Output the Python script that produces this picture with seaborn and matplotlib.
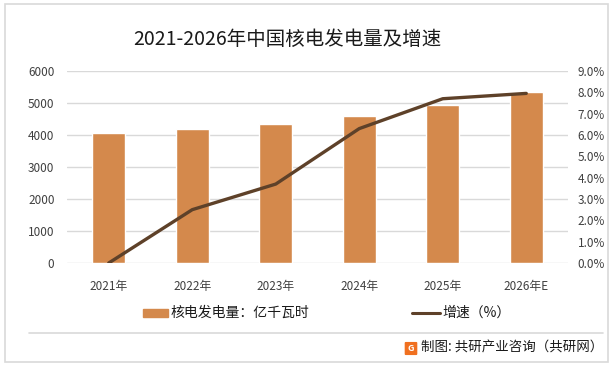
import matplotlib
matplotlib.use("Agg")
import matplotlib.pyplot as plt
import seaborn as sns
import numpy as np
import pandas as pd
from matplotlib.patches import Rectangle, FancyBboxPatch
from matplotlib.lines import Line2D
from matplotlib.ticker import FuncFormatter, MultipleLocator

years = ["2021年", "2022年", "2023年", "2024年", "2025年", "2026年E"]
generation = [4075, 4178, 4334, 4600, 4940, 5340]
growth = [0.0, 2.5, 3.7, 6.3, 7.7, 7.95]

title = "2021-2026年中国核电发电量及增速"
bar_label = "核电发电量：亿千瓦时"
line_label = "增速（%）"
source = "制图: 共研产业咨询（共研网）"

sns.set_theme(style="white")
plt.rcParams["font.family"] = ["Noto Sans CJK SC", "DejaVu Sans"]

BAR = "#D4894C"
LINE = "#5E4129"
GRID = "#D9D9D9"
TXT = "#404040"

fig = plt.figure(figsize=(6.14, 3.69), dpi=100)
W, H = 614, 369

def fx(x):
    return x / W

def fy(y):
    return 1 - y / H

ax = fig.add_axes([fx(67), fy(263), fx(568) - fx(67), fy(71) - fy(263)])
df = pd.DataFrame({"year": years, "gen": generation, "growth": growth})
sns.barplot(data=df, x="year", y="gen", color=BAR, saturation=1, width=0.4, ax=ax)
ax.set_xlim(-0.5, len(years) - 0.5)
ax.set_ylim(0, 6000)
ax.yaxis.set_major_locator(MultipleLocator(1000))
ax.grid(axis="y", color=GRID, lw=1)
ax.set_axisbelow(True)
for s in ax.spines.values():
    s.set_visible(False)
ax.set_xlabel("")
ax.set_ylabel("")
ax.tick_params(axis="both", length=0, labelsize=8.5, colors=TXT)
ax.tick_params(axis="y", pad=9)
ax.tick_params(axis="x", pad=12)

ax2 = ax.twinx()
sns.lineplot(x=np.arange(len(years)), y=df["growth"], color=LINE, lw=2.4, ax=ax2)
ax2.set_ylim(0, 9)
ax2.yaxis.set_major_locator(MultipleLocator(1))
ax2.yaxis.set_major_formatter(FuncFormatter(lambda v, p: f"{v:.1f}%"))
for s in ax2.spines.values():
    s.set_visible(False)
ax2.set_ylabel("")
ax2.tick_params(axis="y", length=0, labelsize=8.5, colors=TXT, pad=7)
ax.set_xlim(-0.5, len(years) - 0.5)

# title
fig.text(fx(287), fy(39), title, ha="center", va="center", fontsize=14, color="#1a1a1a")

# legend
fig.patches.append(Rectangle((fx(143), fy(317)), fx(168) - fx(143), fy(309) - fy(317),
                             transform=fig.transFigure, color=BAR))
fig.text(fx(171), fy(313), bar_label, ha="left", va="center", fontsize=10, color="#1a1a1a")
fig.lines.append(Line2D([fx(412), fx(440)], [fy(313), fy(313)], transform=fig.transFigure,
                        color=LINE, lw=2.2))
fig.text(fx(442), fy(313), line_label, ha="left", va="center", fontsize=10, color="#1a1a1a")

# frame and separator
fig.patches.append(Rectangle((fx(5), fy(362)), fx(608) - fx(5), fy(4) - fy(362),
                             transform=fig.transFigure, fill=False, ec=GRID, lw=1.2))
fig.lines.append(Line2D([fx(29), fx(603)], [fy(333), fy(333)], transform=fig.transFigure,
                        color=GRID, lw=1.2))

# source
fig.patches.append(FancyBboxPatch((fx(406), fy(354)), fx(10), fy(343) - fy(354),
                                  boxstyle="round,pad=0.001", transform=fig.transFigure,
                                  color="#F07020"))
fig.text(fx(411), fy(348.5), "G", ha="center", va="center", fontsize=6.5, color="white",
         fontweight="bold")
fig.text(fx(421), fy(348), source, ha="left", va="center", fontsize=9.7, color="#1a1a1a")

fig.savefig("out.png", dpi=100)
